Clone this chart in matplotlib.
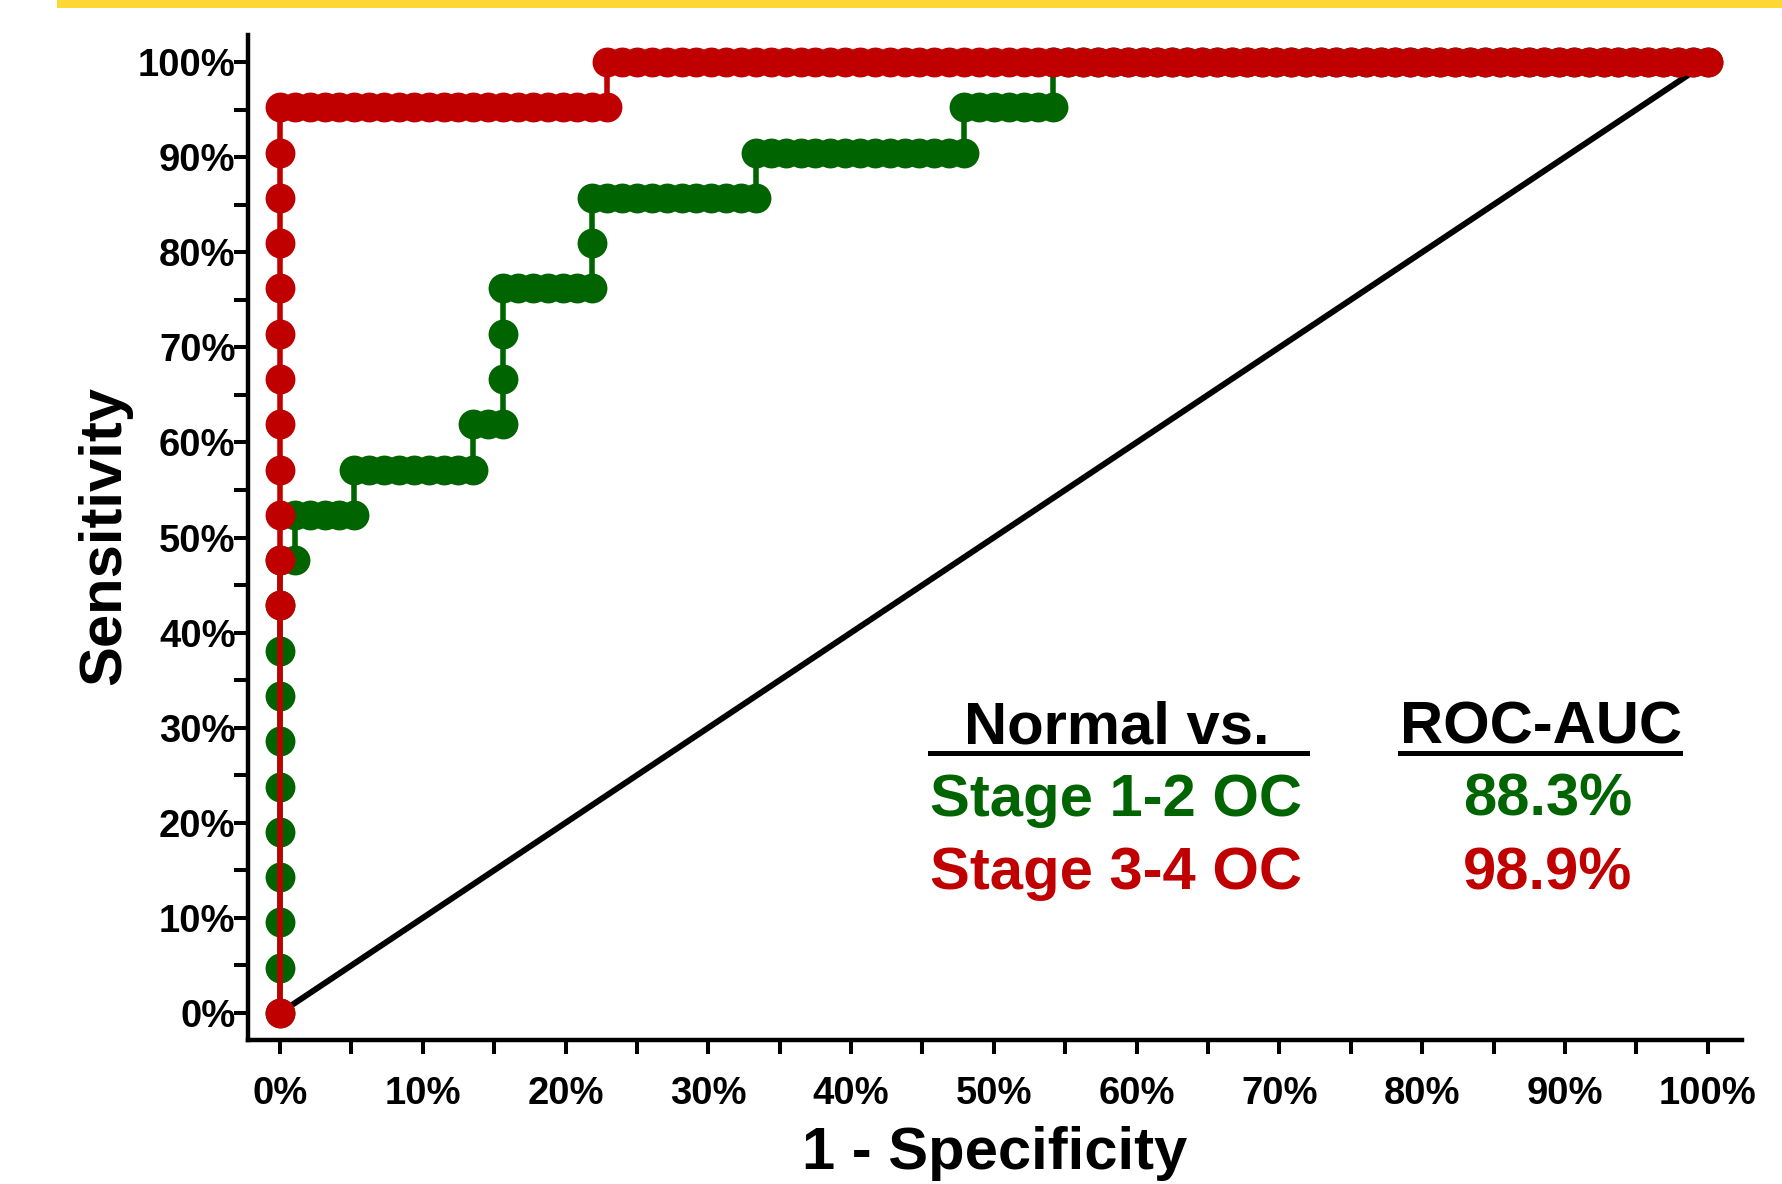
import matplotlib
matplotlib.use("Agg")
import matplotlib.pyplot as plt
from matplotlib.lines import Line2D
from matplotlib.patches import Rectangle
from matplotlib.ticker import FixedLocator

# ---------------- data (ROC points, counts) ----------------
n_normals = 96          # number of normal controls (x steps)
n_cases = 21            # number of cases per stage group (y steps)

# Stage 1-2 OC : false-positive counts / true-positive counts at each cutoff
green_fp = [0, 0, 0, 0, 0, 0, 0, 0, 0, 0, 0,
            1, 1,
            2, 3, 4, 5, 5,
            6, 7, 8, 9, 10, 11, 12, 13, 13,
            14, 15, 15, 15, 15,
            16, 17, 18, 19, 20, 21, 21, 21,
            22, 23, 24, 25, 26, 27, 28, 29, 30, 31, 32, 32,
            33, 34, 35, 36, 37, 38, 39, 40, 41, 42, 43, 44, 45, 46, 46,
            47, 48, 49, 50, 51, 52, 52,
            53, 54, 55, 56, 57, 58, 59, 60, 61, 62, 63,
            64, 65, 66, 67, 68, 69, 70, 71, 72, 73, 74,
            75, 76, 77, 78, 79, 80, 81, 82, 83, 84, 85,
            86, 87, 88, 89, 90, 91, 92, 93, 94, 95, 96]
green_tp = [0, 1, 2, 3, 4, 5, 6, 7, 8, 9, 10,
            10, 11,
            11, 11, 11, 11, 12,
            12, 12, 12, 12, 12, 12, 12, 12, 13,
            13, 13, 14, 15, 16,
            16, 16, 16, 16, 16, 16, 17, 18,
            18, 18, 18, 18, 18, 18, 18, 18, 18, 18, 18, 19,
            19, 19, 19, 19, 19, 19, 19, 19, 19, 19, 19, 19, 19, 19, 20,
            20, 20, 20, 20, 20, 20, 21,
            21, 21, 21, 21, 21, 21, 21, 21, 21, 21, 21,
            21, 21, 21, 21, 21, 21, 21, 21, 21, 21, 21,
            21, 21, 21, 21, 21, 21, 21, 21, 21, 21, 21,
            21, 21, 21, 21, 21, 21, 21, 21, 21, 21, 21]

# Stage 3-4 OC
red_fp = [0, 0, 0, 0, 0, 0, 0, 0, 0, 0, 0, 0, 0,
          1, 2, 3, 4, 5, 6, 7, 8, 9, 10, 11,
          12, 13, 14, 15, 16, 17, 18, 19, 20, 21, 22, 22,
          23, 24, 25, 26, 27, 28, 29, 30, 31, 32, 33, 34, 35, 36, 37,
          38, 39, 40, 41, 42, 43, 44, 45, 46, 47, 48, 49, 50, 51, 52,
          53, 54, 55, 56, 57, 58, 59, 60, 61, 62, 63, 64, 65, 66, 67,
          68, 69, 70, 71, 72, 73, 74, 75, 76, 77, 78, 79, 80, 81, 82,
          83, 84, 85, 86, 87, 88, 89, 90, 91, 92, 93, 94, 95, 96]
red_tp = [0, 9, 10, 11, 12, 13, 14, 15, 16, 17, 18, 19, 20,
          20, 20, 20, 20, 20, 20, 20, 20, 20, 20, 20,
          20, 20, 20, 20, 20, 20, 20, 20, 20, 20, 20, 21,
          21, 21, 21, 21, 21, 21, 21, 21, 21, 21, 21, 21, 21, 21, 21,
          21, 21, 21, 21, 21, 21, 21, 21, 21, 21, 21, 21, 21, 21, 21,
          21, 21, 21, 21, 21, 21, 21, 21, 21, 21, 21, 21, 21, 21, 21,
          21, 21, 21, 21, 21, 21, 21, 21, 21, 21, 21, 21, 21, 21, 21,
          21, 21, 21, 21, 21, 21, 21, 21, 21, 21, 21, 21, 21, 21]

group_labels = ["Stage 1-2 OC", "Stage 3-4 OC"]
auc_labels = ["88.3%", "98.9%"]
x_ticks = [0, 10, 20, 30, 40, 50, 60, 70, 80, 90, 100]
y_ticks = [0, 10, 20, 30, 40, 50, 60, 70, 80, 90, 100]
minor_ticks = [5, 15, 25, 35, 45, 55, 65, 75, 85, 95]

# ---------------- style ----------------
GREEN = "#006400"
RED = "#C00000"
YELLOW = "#FDD835"
FONT = "Liberation Sans"

W, H = 1782, 1184
fig = plt.figure(figsize=(W / 100, H / 100), dpi=100)


def fx(px):
    return px / W


def fy(py):
    return 1 - py / H


# yellow band at the top
fig.add_artist(Rectangle((fx(57), fy(8)), 1 - fx(57), 8 / H,
                         transform=fig.transFigure, color=YELLOW, lw=0))

ax = fig.add_axes([fx(248), fy(1040), fx(1742) - fx(248), fy(35) - fy(1040)])
ax.set_xlim(-2.24, 102.4)
ax.set_ylim(-2.84, 102.84)

# chance line
ax.plot([0, 100], [0, 100], color="black", lw=4.3, solid_capstyle="butt",
        zorder=2, clip_on=False)

gx = [v / n_normals * 100 for v in green_fp]
gy = [v / n_cases * 100 for v in green_tp]
rx = [v / n_normals * 100 for v in red_fp]
ry = [v / n_cases * 100 for v in red_tp]

ax.plot(gx, gy, color=GREEN, lw=4.0, marker="o", ms=21.5, mec=GREEN, mfc=GREEN,
        mew=0, zorder=3, clip_on=False)
ax.plot(rx, ry, color=RED, lw=4.0, marker="o", ms=21.5, mec=RED, mfc=RED,
        mew=0, zorder=4, clip_on=False)

# axes styling
for s in ["top", "right"]:
    ax.spines[s].set_visible(False)
for s in ["left", "bottom"]:
    ax.spines[s].set_linewidth(3.2)
    ax.spines[s].set_capstyle("projecting")

ax.xaxis.set_major_locator(FixedLocator(x_ticks))
ax.yaxis.set_major_locator(FixedLocator(y_ticks))
ax.xaxis.set_minor_locator(FixedLocator(minor_ticks))
ax.yaxis.set_minor_locator(FixedLocator(minor_ticks))
ax.set_xticklabels([f"{t}%" for t in x_ticks])
ax.set_yticklabels([f"{t}%" for t in y_ticks])
ax.tick_params(axis="both", which="both", direction="out", length=10,
               width=2.9, color="black")
ax.tick_params(axis="x", which="major", pad=16)
ax.tick_params(axis="y", which="major", pad=-1)
for lab in ax.get_xticklabels() + ax.get_yticklabels():
    lab.set_fontfamily(FONT)
    lab.set_fontweight("bold")
    lab.set_fontsize(27.5)

# axis titles
fig.text(fx(995), fy(1169), "1 - Specificity", fontsize=43, fontweight="bold",
         family=FONT, ha="center", va="baseline")
fig.text(fx(105), fy(536), "Sensitivity", fontsize=43, fontweight="bold",
         family=FONT, ha="center", va="center", rotation=90)

# legend-like table
kw = dict(fontsize=43, fontweight="bold", family=FONT, va="baseline")
fig.text(fx(964), fy(744), "Normal vs.", color="black", ha="left", **kw)
fig.text(fx(1400), fy(744), "ROC-AUC", color="black", ha="left", **kw)
fig.add_artist(Line2D([fx(930), fx(1307)], [fy(753), fy(753)],
                      transform=fig.transFigure, color="black", lw=3.6))
fig.add_artist(Line2D([fx(1400), fx(1680)], [fy(753), fy(753)],
                      transform=fig.transFigure, color="black", lw=3.6))
fig.text(fx(930), fy(816), group_labels[0], color=GREEN, ha="left", **kw)
fig.text(fx(1548), fy(816), auc_labels[0], color=GREEN, ha="center", **kw)
fig.text(fx(930), fy(889), group_labels[1], color=RED, ha="left", **kw)
fig.text(fx(1548), fy(889), auc_labels[1], color=RED, ha="center", **kw)

fig.savefig("out.png", dpi=100)
